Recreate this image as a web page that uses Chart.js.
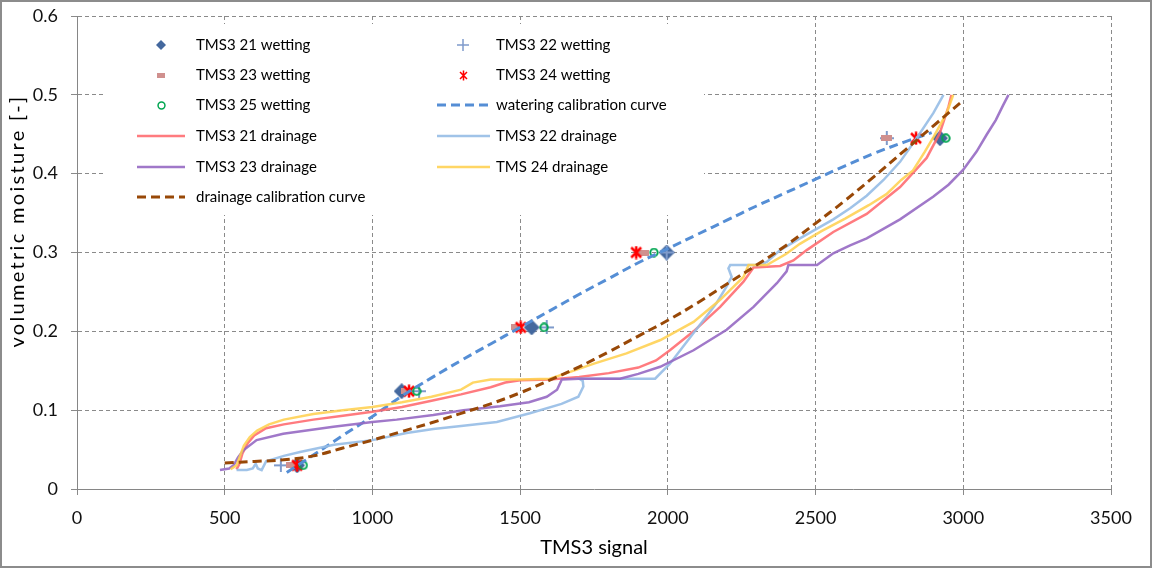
<!DOCTYPE html>
<html><head><meta charset="utf-8">
<script src="https://cdn.jsdelivr.net/npm/chart.js@4.4.0/dist/chart.umd.min.js"></script>
<style>html,body{margin:0;padding:0;background:#fff;}#wrap{width:1152px;height:568px;position:relative;}canvas{display:block;}</style>
</head><body><div id="wrap"><canvas id="c" width="1152" height="568"></canvas></div>
<script>
// ---------- data ----------
const seriesNames = ['TMS3 21 wetting','TMS3 22 wetting','TMS3 23 wetting','TMS3 24 wetting','TMS3 25 wetting',
  'watering calibration curve','TMS3 21 drainage','TMS3 22 drainage','TMS3 23 drainage','TMS 24 drainage','drainage calibration curve'];
const xTickLabels = ['0','500','1000','1500','2000','2500','3000','3500'];
const yTickLabels = ['0','0.1','0.2','0.3','0.4','0.5','0.6'];
const xAxisTitle = 'TMS3 signal';
const yAxisTitle = 'volumetric moisture [-]';

const wetY = [0.030, 0.124, 0.205, 0.300, 0.445];
const w21X = [745, 1099, 1539, 1996, 2921];
const w22X = [690, 1158, 1590, 1996, 2741];
const w23X = [727, 1114, 1488, 1916, 2741];
const w24X = [745, 1124, 1502, 1893, 2840];
const w25X = [766, 1150, 1581, 1953, 2941];

const watX = [710,800,900,1000,1100,1200,1300,1400,1500,1600,1700,1800,1900,2000,2100,2200,2300,2400,2500,2600,2700,2800,2893];
const watY = [0.021,0.043,0.068,0.092,0.118,0.141,0.163,0.184,0.205,0.226,0.247,0.267,0.287,0.305,0.323,0.341,0.359,0.376,0.393,0.410,0.426,0.440,0.452];

const d21X = [540,550,560,578,600,640,700,800,900,1000,1100,1200,1300,1400,1450,1500,1600,1700,1800,1900,1960,2007,2087,2177,2256,2290,2380,2425,2470,2560,2673,2786,2876,2920,2950,2960];
const d21Y = [0.025,0.032,0.045,0.058,0.068,0.077,0.082,0.088,0.093,0.098,0.104,0.112,0.120,0.129,0.135,0.138,0.139,0.142,0.147,0.154,0.163,0.176,0.200,0.231,0.263,0.281,0.283,0.290,0.303,0.326,0.349,0.383,0.420,0.451,0.485,0.500];

const d22X = [540,575,595,605,612,625,640,700,755,870,1000,1116,1206,1300,1421,1533,1640,1697,1714,1712,1700,1750,1850,1957,2007,2087,2131,2165,2199,2216,2205,2211,2312,2335,2380,2447,2560,2617,2673,2730,2786,2842,2899,2933];
const d22Y = [0.024,0.024,0.026,0.032,0.026,0.024,0.035,0.042,0.047,0.056,0.062,0.071,0.076,0.080,0.085,0.096,0.108,0.117,0.130,0.137,0.140,0.140,0.140,0.140,0.159,0.198,0.219,0.236,0.257,0.269,0.280,0.284,0.284,0.288,0.303,0.318,0.342,0.356,0.372,0.392,0.415,0.445,0.477,0.500];

const d23X = [484,515,530,545,563,608,698,868,1000,1082,1206,1308,1432,1530,1590,1625,1641,1700,1838,1900,1974,2087,2199,2290,2369,2402,2408,2505,2560,2617,2673,2786,2899,2950,3000,3045,3080,3110,3135,3153];
const d23Y = [0.024,0.026,0.030,0.040,0.049,0.062,0.070,0.079,0.085,0.088,0.094,0.100,0.105,0.110,0.117,0.126,0.139,0.140,0.140,0.146,0.155,0.176,0.202,0.231,0.261,0.276,0.284,0.284,0.299,0.309,0.318,0.342,0.371,0.386,0.405,0.428,0.450,0.468,0.487,0.500];

const d24X = [520,540,552,565,585,610,650,700,800,900,1000,1100,1200,1300,1340,1400,1500,1600,1650,1750,1860,1975,2087,2177,2256,2273,2335,2400,2447,2520,2600,2680,2740,2790,2830,2870,2900,2944,2966];
const d24Y = [0.025,0.030,0.042,0.055,0.066,0.074,0.082,0.088,0.095,0.100,0.104,0.110,0.117,0.126,0.135,0.139,0.139,0.140,0.146,0.159,0.172,0.189,0.212,0.240,0.269,0.284,0.284,0.298,0.311,0.327,0.343,0.360,0.374,0.392,0.404,0.428,0.447,0.477,0.500];

const calX = [500,600,700,800,900,1000,1100,1200,1300,1400,1500,1600,1700,1800,1900,2000,2100,2200,2300,2400,2500,2600,2700,2800,2900,3000];
const calY = [0.033,0.035,0.037,0.042,0.052,0.062,0.073,0.084,0.096,0.108,0.122,0.138,0.155,0.174,0.194,0.214,0.236,0.260,0.284,0.309,0.337,0.366,0.397,0.429,0.461,0.493];

// ---------- marker images ----------
function mk(w,h,fn){const c=document.createElement('canvas');c.width=w;c.height=h;fn(c.getContext('2d'),w,h);return c;}
function diamond(s,col){return mk(s,s,(g,w)=>{g.fillStyle=col;g.beginPath();g.moveTo(w/2,0);g.lineTo(w,w/2);g.lineTo(w/2,w);g.lineTo(0,w/2);g.closePath();g.fill();});}
function plus(s,col,lw){return mk(s,s,(g,w)=>{g.strokeStyle=col;g.lineWidth=lw;g.beginPath();g.moveTo(0,w/2);g.lineTo(w,w/2);g.moveTo(w/2,0);g.lineTo(w/2,w);g.stroke();});}
function dash(w,h,col){return mk(w,h,(g)=>{g.fillStyle=col;g.fillRect(0,0,w,h);});}
function aster(s,col,lw){return mk(s,s,(g,w)=>{g.strokeStyle=col;g.lineWidth=lw;const a=2,b=w-2;g.beginPath();g.moveTo(a,a);g.lineTo(b,b);g.moveTo(b,a);g.lineTo(a,b);g.moveTo(w/2,0.5);g.lineTo(w/2,w-0.5);g.stroke();});}
function ring(s,col,lw){return mk(s,s,(g,w)=>{g.strokeStyle=col;g.lineWidth=lw;g.beginPath();g.arc(w/2,w/2,w/2-lw/2-0.3,0,Math.PI*2);g.stroke();});}

const C = {w21:'#44689E', w22:'#7F9BCB', w23:'#D0908E', w24:'#FF0000', w25:'#00A651',
  wat:'#558ED5', d21:'rgba(255,100,105,0.85)', d22:'rgba(150,188,230,0.9)', d23:'rgba(150,105,195,0.9)', d24:'rgba(255,208,80,0.88)', cal:'#984807'};

const mChart = [diamond(16,C.w21), plus(14,C.w22,2), dash(11,6,C.w23), aster(14,C.w24,2.5), ring(10,C.w25,2)];
const mLegend = [diamond(10,C.w21), plus(12,C.w22,1.5), dash(8,5,C.w23), aster(11,C.w24,1.5), ring(9,C.w25,1.5)];

function pts(xs, ys){ return xs.map((x,i)=>({x:x, y:ys[i]})); }
const wetXs = [w21X,w22X,w23X,w24X,w25X];

const datasets = [];
wetXs.forEach((xs,i)=>{
  datasets.push({label:seriesNames[i], data:pts(xs,wetY), showLine:false, pointStyle:mChart[i], pointRadius:7, pointHoverRadius:7, order:-i});
});
function lineDs(i,xs,ys,col,w,dashArr,tension){
  return {label:seriesNames[i], data:pts(xs,ys), showLine:true, pointRadius:0, pointHoverRadius:0, borderColor:col, borderWidth:w,
    borderDash:dashArr, tension:tension, fill:false, order:-i};
}
datasets.push(lineDs(5,watX,watY,C.wat,3,[9,5],0.4));
datasets.push(lineDs(6,d21X,d21Y,C.d21,2.5,[],0));
datasets.push(lineDs(7,d22X,d22Y,C.d22,2.5,[],0));
datasets.push(lineDs(8,d23X,d23Y,C.d23,2.5,[],0));
datasets.push(lineDs(9,d24X,d24Y,C.d24,2.5,[],0));
datasets.push(lineDs(10,calX,calY,C.cal,3,[9,5],0.4));

// ---------- plugins ----------
const legendPlugin = {
  id:'xlLegend',
  afterDatasetsDraw(chart){
    const ctx = chart.ctx;
    ctx.save();
    ctx.fillStyle = '#fff';
    ctx.fillRect(104, 24, 600, 191);
    const cols = [{mx:161,l0:137,l1:185,tx:196},{mx:463,l0:437,l1:490,tx:496}];
    const rows = [45,75,105,136,167,197];
    ctx.font = '15px Lato';
    ctx.textBaseline = 'middle';
    ctx.textAlign = 'left';
    chart.data.datasets.forEach((d,i)=>{
      const c = cols[i%2], y = rows[Math.floor(i/2)];
      if (i < 5) {
        const im = mLegend[i];
        ctx.drawImage(im, Math.round(c.mx - im.width/2), Math.round(y - im.height/2));
      } else {
        ctx.save();
        ctx.strokeStyle = d.borderColor; ctx.lineWidth = d.borderWidth;
        ctx.setLineDash(d.borderDash || []);
        ctx.beginPath(); ctx.moveTo(c.l0, y); ctx.lineTo(c.l1, y); ctx.stroke();
        ctx.restore();
      }
      ctx.fillStyle = '#000';
      ctx.fillText(d.label, c.tx, y);
    });
    ctx.restore();
  },
  afterDraw(chart){
    const ctx = chart.ctx;
    ctx.save();
    ctx.translate(18, 221);
    ctx.rotate(-Math.PI/2);
    ctx.font = '20px Lato';
    const n = yAxisTitle.length;
    const w0 = ctx.measureText(yAxisTitle).width;
    const sp = Math.max(0, (253 - w0) / n);
    try { ctx.letterSpacing = sp.toFixed(2) + 'px'; } catch(e) {}
    ctx.fillStyle = '#000';
    ctx.textAlign = 'left';
    ctx.textBaseline = 'middle';
    ctx.fillText(yAxisTitle, -126.5, 0);
    ctx.restore();
    ctx.save();
    ctx.strokeStyle = '#8C8C8C'; ctx.lineWidth = 2;
    ctx.strokeRect(1, 1, chart.width - 2, chart.height - 2);
    ctx.restore();
  }
};

const gridCol = '#8A8A8A';
new Chart(document.getElementById('c'), {
  type:'scatter',
  data:{datasets:datasets},
  options:{
    responsive:false, animation:false, devicePixelRatio:1,
    layout:{padding:{left:0, top:16, right:41, bottom:0}},
    plugins:{legend:{display:false}, tooltip:{enabled:false}},
    scales:{
      x:{type:'linear', min:0, max:3500,
        ticks:{stepSize:500, padding:12, color:'#111', font:{family:'Lato', size:18},
          callback:(v,i)=>xTickLabels[i]},
        grid:{color:gridCol, lineWidth:1, tickLength:6, tickColor:gridCol, tickWidth:1, tickBorderDash:[]},
        border:{color:'#868686', width:1, dash:[4,3]},
        title:{display:true, text:xAxisTitle, color:'#000', font:{family:'Lato', size:20}, padding:{top:0, bottom:8}},
        afterFit:(s)=>{ s.height = 79; s.paddingLeft = 0; s.paddingRight = 0; }
      },
      y:{type:'linear', min:0, max:0.6,
        ticks:{stepSize:0.1, padding:13, color:'#111', font:{family:'Lato', size:18},
          callback:(v,i)=>yTickLabels[i]},
        grid:{color:gridCol, lineWidth:1, tickLength:6, tickColor:gridCol, tickWidth:1, tickBorderDash:[]},
        border:{color:'#868686', width:1, dash:[4,3]},
        afterFit:(s)=>{ s.width = 77; s.paddingTop = 0; s.paddingBottom = 0; }
      }
    }
  },
  plugins:[legendPlugin]
});
</script></body></html>
